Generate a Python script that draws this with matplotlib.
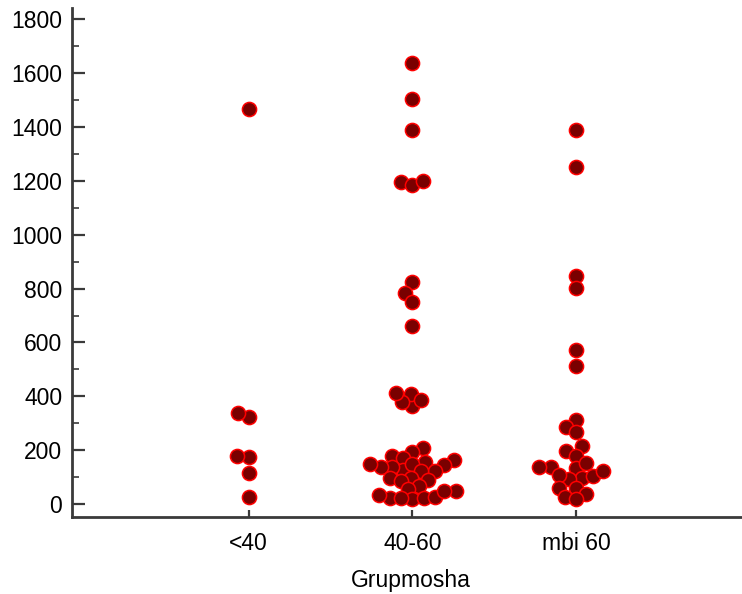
import matplotlib
matplotlib.use("Agg")
import matplotlib.pyplot as plt
import seaborn as sns
import pandas as pd
from matplotlib.ticker import MultipleLocator

categories = ["<40", "40-60", "mbi 60"]

vals_lt40 = [1467, 322, 337, 173, 177, 115, 26]
vals_40_60 = [1639, 1505, 1390, 1197, 1185, 1199, 826, 783, 752, 661,
              363, 407, 378, 412, 388,
              210, 194, 179, 172, 158, 163, 126, 136, 138, 146, 150, 150,
              121, 121, 88, 96, 98, 67, 86, 55, 18, 24, 21, 21, 27, 34, 49, 49]
vals_mbi60 = [1390, 1250, 848, 804, 571, 513,
              313, 285, 266, 214, 198, 179, 133, 136, 138, 152,
              96, 94, 105, 107, 121, 61, 61, 27, 36, 18]

y_ticks = [0, 200, 400, 600, 800, 1000, 1200, 1400, 1600, 1800]
x_label = "Grupmosha"

plt.rcParams['font.family'] = ['Liberation Sans', 'DejaVu Sans']

df = pd.DataFrame({
    "group": [categories[0]] * len(vals_lt40) + [categories[1]] * len(vals_40_60) + [categories[2]] * len(vals_mbi60),
    "value": vals_lt40 + vals_40_60 + vals_mbi60,
})

fig = plt.figure(figsize=(7.42, 5.94), dpi=100)
ax = fig.add_axes([72 / 742, (594 - 517) / 594, 1 - 72 / 742 + 0.01, (517 - 8) / 594])

ax.set_xlim(-1.08, 3.06)
ax.set_ylim(-48, 1842)

# swarm layout computed with a smaller collision size so that markers overlap
sns.swarmplot(data=df, x="group", y="value", order=categories, ax=ax,
              size=6.8, color="#7a0000", edgecolor="#ff0000", linewidth=1.0)
ax.set_xlim(-1.08, 3.06)
ax.set_ylim(-48, 1842)
fig.canvas.draw()
for coll in ax.collections:
    if "draw" in coll.__dict__:
        del coll.__dict__["draw"]
    coll.set_sizes([10.2 ** 2])
    coll.set_linewidth(1.1)

ax.set_yticks(y_ticks)
ax.yaxis.set_minor_locator(MultipleLocator(100))
ax.set_xticks(range(len(categories)))
ax.set_xticklabels(categories)

for s in ["top", "right"]:
    ax.spines[s].set_visible(False)
for s in ["left", "bottom"]:
    ax.spines[s].set_color("#3a3a3a")
    ax.spines[s].set_linewidth(2)

ax.tick_params(axis="y", which="major", direction="in", length=9, width=1.6,
               color="#3a3a3a", labelsize=16.5, pad=7)
ax.tick_params(axis="y", which="minor", direction="in", length=5, width=1.2,
               color="#3a3a3a")
ax.tick_params(axis="x", which="major", direction="in", length=5, width=1.6,
               color="#3a3a3a", labelsize=16.5, pad=11)

ax.set_xlabel(x_label, fontsize=16.5, labelpad=10)
ax.set_ylabel("")

fig.savefig("out.png", dpi=100)
